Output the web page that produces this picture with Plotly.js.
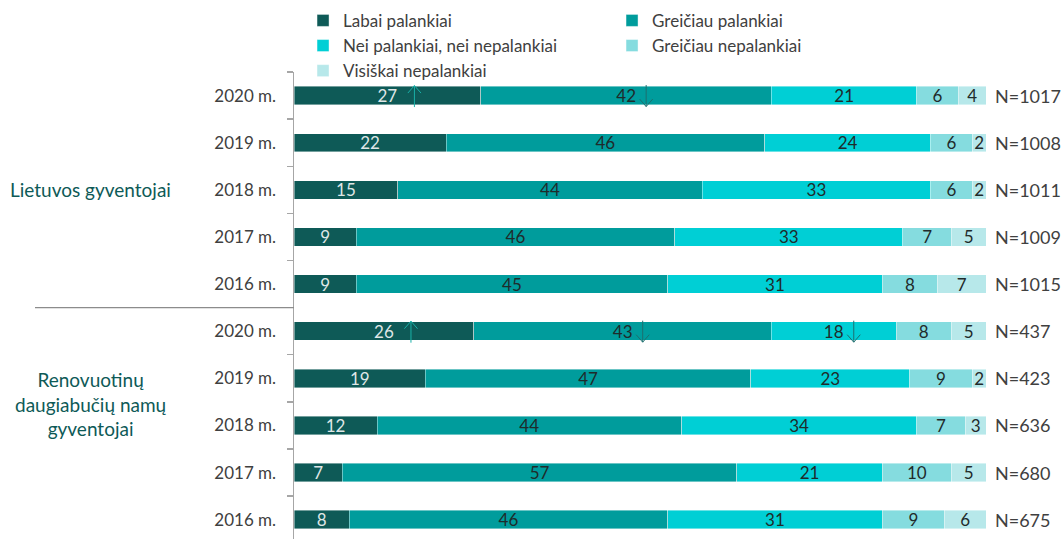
<!DOCTYPE html>
<html>
<head>
<meta charset="utf-8">
<script src="https://cdn.plot.ly/plotly-3.0.1.min.js"></script>
<style>html,body{margin:0;padding:0;background:#fff;}#chart{width:1063px;height:539px;}</style>
</head>
<body>
<div id="chart"></div>
<script>
// ---- data ----
const yearLabels = ['2020 m.','2019 m.','2018 m.','2017 m.','2016 m.','2020 m.','2019 m.','2018 m.','2017 m.','2016 m.'];
const rowGroup = [0,0,0,0,0,1,1,1,1,1];
const groupNames = ['Lietuvos gyventojai', 'Renovuotinų<br>daugiabučių namų<br>gyventojai'];
const seriesNames = ['Labai palankiai','Greičiau palankiai','Nei palankiai, nei nepalankiai','Greičiau nepalankiai','Visiškai nepalankiai'];
const labai       = [27,22,15, 9, 9,26,19,12, 7, 8];
const greiciauPal = [42,46,44,46,45,43,47,44,57,46];
const nei         = [21,24,33,33,31,18,23,34,21,31];
const greiciauNep = [ 6, 6, 6, 7, 8, 8, 9, 7,10, 9];
const visiskai    = [ 4, 2, 2, 5, 7, 5, 2, 3, 5, 6];
const nLabels = ['N=1017','N=1008','N=1011','N=1009','N=1015','N=437','N=423','N=636','N=680','N=675'];
// significant change markers: row index, series index, direction
const arrowRows   = [0, 0, 5, 5, 5];
const arrowSeries = [0, 1, 0, 1, 2];
const arrowDirs   = ['up','down','up','down','down'];

// ---- style ----
const colors = ['#0e5a57','#009c9c','#00cfd5','#85dcdf','#b7e8ea'];
const textColors = ['#dfe6e6','#1f2b2b','#1f2b2b','#1f2b2b','#1f2b2b'];
const FONT = 'Lato, "Segoe UI", sans-serif';
const values = [labai, greiciauPal, nei, greiciauNep, visiskai];
const rowIds = yearLabels.map((y,i) => 'g' + rowGroup[i] + ' ' + y);

const traces = values.map((v, s) => ({
  type: 'bar',
  orientation: 'h',
  name: seriesNames[s],
  y: rowIds,
  x: v,
  marker: {color: colors[s], line: {color: 'rgba(255,255,255,0.7)', width: 0.6}},
  text: v.map(String),
  textposition: 'inside',
  insidetextanchor: 'middle',
  constraintext: 'none',
  textangle: 0,
  textfont: {family: FONT, size: 17, color: textColors[s]},
  hoverinfo: 'x+name'
}));

const annotations = [];
// N labels
const totals = rowIds.map((_, i) => values.reduce((a, v) => a + v[i], 0));
rowIds.forEach((id, i) => {
  annotations.push({
    xref: 'x', yref: 'y', x: totals[i], y: i, text: nLabels[i],
    showarrow: false, xanchor: 'left', yanchor: 'middle', xshift: 7,
    font: {family: FONT, size: 18, color: '#404040'}
  });
});
// group labels
annotations.push({
  xref: 'paper', yref: 'y', x: -0.2675, y: 2, text: groupNames[0], showarrow: false,
  xanchor: 'center', yanchor: 'middle', font: {family: FONT, size: 19, color: '#0e5a57'}
});
annotations.push({
  xref: 'paper', yref: 'y', x: -0.2675, y: 6.55, text: groupNames[1], showarrow: false,
  xanchor: 'center', yanchor: 'middle', align: 'center', font: {family: FONT, size: 19, color: '#0e5a57'}
});
// arrows (thin shaft + open V head, drawn as arrow annotations anchored at the segment)
arrowRows.forEach((r, k) => {
  const s = arrowSeries[k];
  let start = 0;
  for (let j = 0; j < s; j++) start += values[j][r];
  const mid = start + values[s][r] / 2;
  const up = arrowDirs[k] === 'up';
  const sign = up ? 1 : -1;
  const base = {
    xref: 'x', yref: 'y', x: mid, y: r, text: '', showarrow: true,
    xshift: up ? 27 : 20, yshift: up ? 10 : -11,
    font: {size: 1}, borderpad: 0, standoff: 0, startstandoff: 0,
    arrowhead: 0, arrowwidth: 1, arrowcolor: up ? '#19b0a8' : '#1d6f6f'
  };
  annotations.push(Object.assign({}, base, {ax: 0, ay: sign * 22}));
  annotations.push(Object.assign({}, base, {ax: -7, ay: sign * 8}));
  annotations.push(Object.assign({}, base, {ax: 7, ay: sign * 8}));
});

const layout = {
  width: 1063, height: 539,
  margin: {l: 294, r: 10, t: 72, b: 0, pad: 0},
  barmode: 'stack',
  bargap: 0.61,
  paper_bgcolor: '#fff', plot_bgcolor: '#fff',
  font: {family: FONT, color: '#404040'},
  showlegend: true,
  legend: {
    orientation: 'h', x: 0.0119, xanchor: 'left', y: 1.148, yanchor: 'top',
    entrywidth: 264, entrywidthmode: 'pixels', traceorder: 'normal',
    font: {family: FONT, size: 17, color: '#404040'}, bgcolor: 'rgba(0,0,0,0)'
  },
  xaxis: {range: [0, 759 / 6.92], visible: false, fixedrange: true},
  yaxis: {
    type: 'category', range: [9.41, -0.5],
    tickmode: 'array', tickvals: rowIds, ticktext: yearLabels,
    tickson: 'boundaries', ticks: 'outside', ticklen: 6, tickcolor: '#a6a6a6', tickwidth: 1.3,
    showline: true, linecolor: '#a6a6a6', linewidth: 1.5,
    showgrid: false, zeroline: false, ticklabelstandoff: 13,
    tickfont: {family: FONT, size: 17, color: '#404040'}, fixedrange: true
  },
  shapes: [{
    type: 'line', xref: 'paper', yref: 'y', x0: (35 - 294) / 759, x1: 0, y0: 4.5, y1: 4.5,
    line: {color: '#8c8c8c', width: 1.3}
  }],
  annotations: annotations
};

Plotly.newPlot('chart', traces, layout, {displayModeBar: false, staticPlot: true});
</script>
</body>
</html>
